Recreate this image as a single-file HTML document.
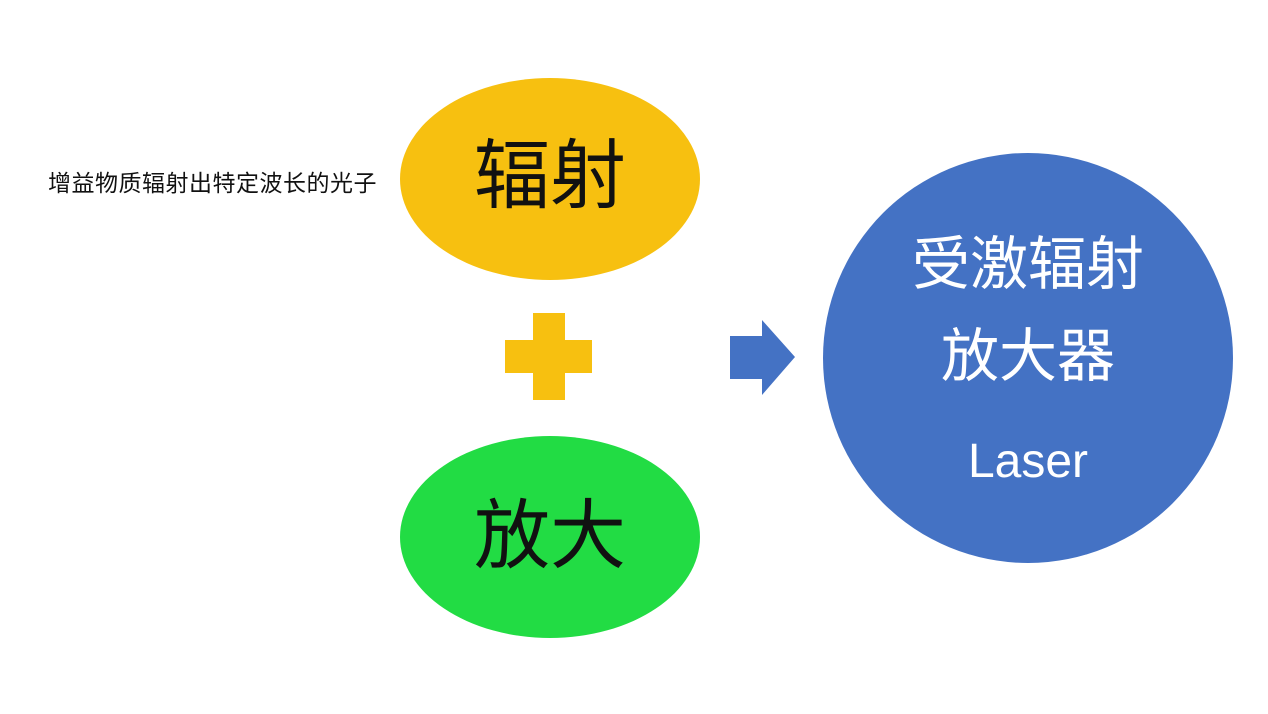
<!DOCTYPE html>
<html><head><meta charset="utf-8"><style>
html,body{margin:0;padding:0;background:#fff;}
body{width:1268px;height:714px;position:relative;overflow:hidden;font-family:"Liberation Sans","Noto Sans CJK SC",sans-serif;}
.a{position:absolute;}
.t{position:absolute;text-align:center;white-space:nowrap;}
</style></head><body>
<div class="a" style="left:48px;top:168px;font-size:23px;line-height:30px;color:#111;letter-spacing:0.5px;">增益物质辐射出特定波长的光子</div>
<div class="a" style="left:400px;top:78px;width:300px;height:202px;border-radius:50%;background:#F7C010;"></div>
<div class="t" style="left:400px;top:132px;width:300px;font-size:76px;line-height:90px;color:#111;">辐射</div>
<div class="a" style="left:505px;top:340px;width:87px;height:33px;background:#F7C010;"></div>
<div class="a" style="left:533px;top:313px;width:32px;height:87px;background:#F7C010;"></div>
<div class="a" style="left:400px;top:436px;width:300px;height:202px;border-radius:50%;background:#22DC44;"></div>
<div class="t" style="left:400px;top:492px;width:300px;font-size:76px;line-height:90px;color:#111;">放大</div>
<svg class="a" style="left:0;top:0" width="1268" height="714"><polygon points="730,336 762,336 762,320 795,357 762,395 762,379 730,379" fill="#4472C4"/></svg>
<div class="a" style="left:823px;top:153px;width:410px;height:410px;border-radius:50%;background:#4472C4;"></div>
<div class="t" style="left:823px;top:228px;width:410px;font-size:58px;line-height:74px;color:#fff;">受激辐射</div>
<div class="t" style="left:823px;top:320px;width:410px;font-size:58px;line-height:74px;color:#fff;">放大器</div>
<div class="t" style="left:823px;top:434px;width:410px;font-size:48px;line-height:56px;color:#fff;">Laser</div>
</body></html>
